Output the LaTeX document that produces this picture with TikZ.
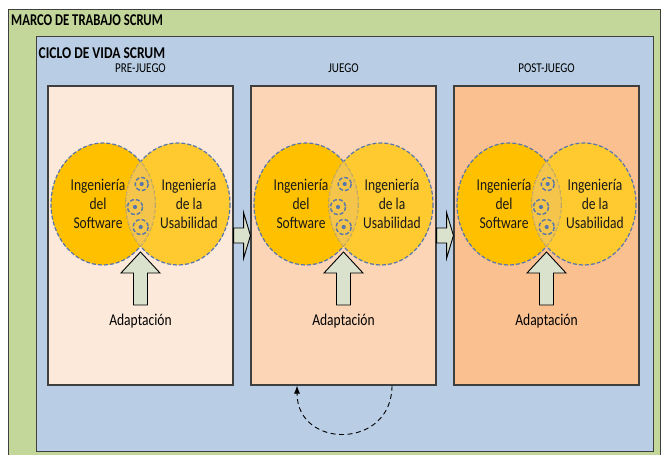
\documentclass[tikz,border=0pt]{standalone}
\usepackage{fontspec}
\setmainfont{Carlito}[FakeStretch=0.82]
\newfontfamily\marcofont{Carlito}[FakeStretch=0.77]
\usetikzlibrary{arrows.meta,calc}

\definecolor{marco}{HTML}{C4D79B}
\definecolor{ciclo}{HTML}{B9CDE5}
\definecolor{preF}{HTML}{FDE9D9}
\definecolor{juegoF}{HTML}{FBD5B5}
\definecolor{postF}{HTML}{FAC090}
\definecolor{swF}{HTML}{FFC000}
\definecolor{uxF}{HTML}{FFCA30}
\definecolor{lensF}{HTML}{F4C54A}
\definecolor{lensLine}{HTML}{D6B35E}
\definecolor{dashBlue}{HTML}{5676AC}
\definecolor{frameLine}{HTML}{3F3F3F}
\definecolor{arrowF}{HTML}{DAE1CC}

\tikzset{
  frame/.style={draw=frameLine, line width=1.2pt, inner sep=0pt, anchor=north west},
  panel/.style={draw=frameLine, line width=1.1pt, inner sep=0pt,
    minimum width=185pt, minimum height=299pt},
  title/.style={font=\fontsize{16.5}{18}\selectfont\bfseries, inner sep=0pt, anchor=base west},
  heading/.style={font=\fontsize{13.5}{15}\selectfont, inner sep=0pt, anchor=base},
  circtext/.style={font=\fontsize{16.5}{19}\selectfont, align=center, inner sep=0pt, text=black!90},
  outline/.style={draw=dashBlue, line width=1.2pt, dash pattern=on 4pt off 2pt},
  gear/.style={draw=dashBlue, line width=1.4pt, dash pattern=on 4pt off 2pt},
  lensoutline/.style={draw=lensLine, line width=1.1pt, dash pattern=on 4pt off 2pt},
  blockarrow/.style={draw=black, line width=0.9pt, fill=arrowF, line join=miter},
  loopback/.style={draw=black, line width=0.9pt, dash pattern=on 5pt off 3.5pt,
    -{Latex[length=8pt,width=6pt]}}
}

% One phase: box, heading, the two overlapping fields, the shared zone and the adaptation arrow
\newcommand\phasepanel[4]{%
  \begin{scope}[shift={(#2,0)}]
    \node[panel, fill=#3] (#1) at (92.5,235.5) {};
    \node[heading] (#1-head) at (92.5,72) {#4};
    % the two fields
    \fill[swF] (55,204) ellipse [x radius=52, y radius=61];
    \fill[uxF] (130,204) ellipse [x radius=52, y radius=61];
    \draw[outline] (55,204) ellipse [x radius=52, y radius=61];
    \draw[outline] (130,204) ellipse [x radius=52, y radius=61];
    % shared zone
    \begin{scope}
      \clip (55,204) ellipse [x radius=52, y radius=61];
      \fill[lensF] (130,204) ellipse [x radius=52, y radius=61];
      \draw[lensoutline] (130,204) ellipse [x radius=52, y radius=61];
    \end{scope}
    \begin{scope}
      \clip (130,204) ellipse [x radius=52, y radius=61];
      \draw[lensoutline] (55,204) ellipse [x radius=52, y radius=61];
    \end{scope}
    % small gears in the shared zone
    \foreach \cx/\cy/\r in {93.7/184/6.5, 87/207/7.5, 92.7/227/7.5}{
      \draw[gear] (\cx,\cy) circle [radius=\r];
      \fill[dashBlue] (\cx,\cy) circle [radius=2.1];
    }
    \node[circtext] (#1-sw) at (50,204) {Ingeniería\\del\\Software};
    \node[circtext] (#1-ux) at (141,204) {Ingeniería\\de la\\Usabilidad};
    % adaptation
    \node[heading, font=\fontsize{16.5}{18}\selectfont] (#1-adapt) at (92.5,325) {Adaptación};
    \coordinate (#1-tip) at (92.5,252);
    \draw[blockarrow] (#1-tip) -- ($(#1-tip)+(19.5,21)$) -- ($(#1-tip)+(7,21)$)
      -- ($(#1-tip)+(7,53)$) -- ($(#1-tip)+(-7,53)$) -- ($(#1-tip)+(-7,21)$)
      -- ($(#1-tip)+(-19.5,21)$) -- cycle;
  \end{scope}}

% block arrow from one phase box to the next
\newcommand\stepright[2]{%
  \draw[blockarrow] ($(#1.east)+(0,-7.5)$) -- ($(#1.east)+(10,-7.5)$)
    -- ($(#1.east)+(10,-23)$) -- (#2.west) -- ($(#1.east)+(10,23)$)
    -- ($(#1.east)+(10,7.5)$) -- ($(#1.east)+(0,7.5)$) -- cycle;}

\begin{document}
\begin{tikzpicture}[x=1pt, y=-1pt]
  \useasboundingbox (0,0) rectangle (664,455);
  \clip (0,0) rectangle (664,455);

  \node[frame, fill=marco, minimum width=652pt, minimum height=480pt] (marco) at (8,9) {};
  \node[title, font=\marcofont\fontsize{16.5}{18}\selectfont\bfseries] (marco-title) at (11,25) {MARCO DE TRABAJO SCRUM};

  \node[frame, fill=ciclo, minimum width=617pt, minimum height=415pt] (ciclo) at (36,36) {};
  \node[title] (ciclo-title) at (38.5,58) {CICLO DE VIDA SCRUM};

  \phasepanel{pre}{48}{preF}{PRE-JUEGO}
  \phasepanel{juego}{251}{juegoF}{JUEGO}
  \phasepanel{post}{454}{postF}{POST-JUEGO}

  \stepright{pre}{juego}
  \stepright{juego}{post}

  % iteration loop under the central phase
  \coordinate (loop-start) at ($(juego.south)+(48.5,0)$);
  \coordinate (loop-end) at ($(juego.south)+(-46.5,0)$);
  \coordinate (loop-c1) at ($(loop-start)+(0,64)$);
  \coordinate (loop-c2) at ($(loop-end)+(0,64)$);
  \draw[loopback] (loop-start) .. controls (loop-c1) and (loop-c2) .. (loop-end);
\end{tikzpicture}
\end{document}
